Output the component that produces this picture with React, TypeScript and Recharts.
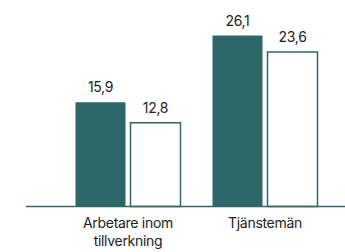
import React from 'react';
import { BarChart, Bar, XAxis, YAxis, LabelList, Text } from 'recharts';

const categories = ['Arbetare inom tillverkning', 'Tjänstemän'];
const seriesA = [15.9, 26.1];
const seriesB = [12.8, 23.6];

const TEAL = '#2D6769';
const FONT = 'Inter, "Noto Sans", sans-serif';

const data = categories.map((name, i) => ({ name, a: seriesA[i], b: seriesB[i] }));

const fmt = (v: number) => v.toFixed(1).replace('.', ',');

const WrappedTick = (props: any) => {
  const { x, y, payload } = props;
  return (
    <Text
      x={x}
      y={y + 4}
      width={115}
      textAnchor="middle"
      verticalAnchor="start"
      lineHeight={18}
      fontSize={14}
      fontFamily={FONT}
      fill="#222"
      style={{ letterSpacing: '-0.3px' }}
    >
      {payload.value}
    </Text>
  );
};

const App: React.FC = () => {
  return (
    <div style={{ position: 'absolute', left: 0, top: 0, background: '#fff' }}>
      <BarChart
        width={345}
        height={252}
        data={data}
        margin={{ top: 10, right: 0, left: 26, bottom: 0 }}
        barSize={50}
        barGap={5}
      >
        <XAxis
          dataKey="name"
          height={45.5}
          axisLine={{ stroke: TEAL, strokeWidth: 1.5 }}
          tickLine={false}
          padding={{ left: 33.5, right: 11.5 }}
          interval={0}
          tick={<WrappedTick />}
        />
        <YAxis hide domain={[0, 30]} />
        <Bar dataKey="a" fill={TEAL} isAnimationActive={false}>
          <LabelList
            dataKey="a"
            position="top"
            offset={10}
            formatter={(v: any) => fmt(Number(v))}
            style={{ fontSize: 14, fontFamily: FONT, fill: '#222', letterSpacing: '-0.3px' }}
          />
        </Bar>
        <Bar dataKey="b" fill="#fff" stroke={TEAL} strokeWidth={1.5} isAnimationActive={false}>
          <LabelList
            dataKey="b"
            position="top"
            offset={10}
            formatter={(v: any) => fmt(Number(v))}
            style={{ fontSize: 14, fontFamily: FONT, fill: '#222', letterSpacing: '-0.3px', stroke: 'none' }}
          />
        </Bar>
      </BarChart>
    </div>
  );
};

export default App;
